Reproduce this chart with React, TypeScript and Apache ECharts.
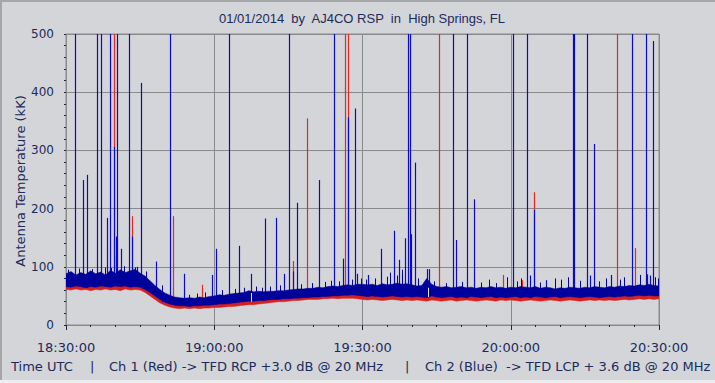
import React, { useEffect, useRef } from "react";
import * as echarts from "echarts";

// minutes after 18:30:00 UTC, one value per minute (index = minute)
const blueTop = [
  88, 92, 86, 90, 87, 93, 88, 91, 86, 94,
  89, 95, 90, 93, 96, 89, 84, 76, 68, 61,
  55, 51, 48, 47, 46, 47, 46, 48, 47, 49,
  50, 52, 51, 53, 54, 55, 56, 59, 57, 58,
  57, 58, 58, 59, 59, 60, 61, 62, 62, 63,
  63, 65, 64, 66, 67, 66, 68, 69, 68, 70,
  70, 69, 70, 68, 71, 69, 70, 72, 70, 71,
  69, 67, 68, 80, 70, 66, 65, 66, 64, 65,
  66, 64, 65, 63, 65, 64, 66, 64, 65, 63,
  65, 64, 66, 65, 64, 66, 63, 65, 64, 62,
  64, 63, 65, 64, 63, 65, 64, 66, 65, 64,
  66, 65, 67, 66, 68, 67, 69, 68, 70, 68,
  67,
];
const blueBottom = [
  66, 65, 67, 66, 64, 66, 65, 67, 66, 65,
  67, 66, 67, 65, 66, 65, 61, 56, 50, 44,
  39, 36, 34, 33, 33, 32, 33, 33, 34, 34,
  35, 36, 36, 37, 38, 39, 40, 41, 41, 42,
  42, 43, 44, 44, 45, 45, 46, 46, 47, 47,
  48, 48, 49, 49, 50, 50, 51, 51, 52, 51,
  50, 49, 50, 49, 48, 49, 50, 49, 48, 49,
  48, 49, 48, 47, 50, 48, 47, 48, 49, 47,
  48, 47, 49, 48, 47, 48, 49, 47, 48, 47,
  48, 49, 47, 48, 47, 49, 48, 47, 48, 49,
  47, 48, 49, 48, 47, 48, 49, 48, 47, 48,
  49, 48, 49, 50, 49, 50, 51, 50, 51, 50,
  50,
];
const redBottom = [
  61, 60, 62, 60, 61, 59, 61, 60, 62, 60,
  61, 59, 62, 60, 61, 60, 56, 50, 44, 38,
  34, 31, 29, 28, 29, 28, 29, 28, 29, 29,
  30, 30, 31, 32, 32, 33, 34, 35, 35, 36,
  37, 38, 39, 40, 40, 41, 42, 42, 43, 44,
  44, 44, 45, 45, 46, 45, 46, 46, 46, 45,
  44, 43, 44, 43, 42, 43, 44, 43, 42, 43,
  42, 43, 42, 41, 43, 42, 41, 42, 43, 41,
  42, 43, 42, 41, 42, 43, 42, 41, 43, 42,
  43, 42, 41, 42, 43, 42, 41, 42, 43, 42,
  41, 42, 43, 42, 41, 42, 43, 42, 43, 42,
  43, 42, 43, 44, 43, 44, 45, 44, 45, 44,
  45,
];

// impulsive spikes: time (minutes after 18:30) and peak (kK)
const blueSpikeTimes = [
  1.8, 3.5, 4.2, 6.2, 7.15, 8.36, 8.97, 9.78, 10.1, 10.4, 11.2, 12.8, 13.4, 14.3, 15.2,
  18.3, 21.1, 23.9, 29.5, 30.4, 33.0, 35.1, 37.4, 40.3, 42.4, 44.1, 45.1, 46.0, 46.7,
  51.1, 54.3, 56.1, 57.1, 58.5, 58.9, 61.2, 63.7, 66.4, 67.4, 68.7, 69.3, 69.7, 69.8,
  70.7, 73.1, 73.5, 78.4, 79.0, 81.2, 82.6, 90.5, 93.3, 93.8, 94.8, 97.1, 102.6, 102.8,
  105.5, 106.0, 106.9, 110.2, 114.6, 117.4, 117.6, 118.2, 118.8,
];
const blueSpikePeaks = [
  500, 249, 258, 500, 500, 184, 500, 306, 152, 500, 131, 500, 152, 100, 416,
  109, 500, 88, 86, 131, 500, 136, 88, 183, 184, 88, 500, 92, 210,
  249, 500, 114, 357, 372, 88, 86, 131, 162, 112, 149, 500, 500, 156,
  279, 96, 96, 500, 146, 500, 216, 500, 500, 85, 198, 77, 500, 500,
  500, 85, 311, 86, 500, 500, 87, 85, 488,
];
// small noise hairs on top of the blue band
const blueHairTimes = [
  0.5, 2.6, 5.3, 7.8, 9.2, 11.8, 13.9, 16.2, 19.5, 24.8, 26.5, 28.2,
  31.5, 34.2, 36.1, 38.5, 39.6, 41.2, 43.3, 47.5, 49.8, 52.4, 53.6, 55.2, 57.8, 59.7,
  60.8, 62.5, 64.9, 65.6, 66.9, 67.9, 71.2, 74.4, 76.9, 80.1, 84.0, 85.5, 87.1, 89.3,
  91.2, 92.0, 95.9, 98.9, 100.2, 101.6, 104.0, 107.9, 109.2, 112.1, 113.0, 116.1, 119.2, 119.7,
];
const blueHairPeaks = [
  95, 97, 96, 99, 98, 101, 99, 92, 68, 52, 54, 56,
  60, 62, 64, 66, 64, 66, 68, 70, 72, 74, 76, 75, 78, 80,
  78, 80, 83, 90, 85, 95, 80, 75, 72, 74, 73, 78, 72, 82,
  75, 80, 73, 80, 78, 82, 76, 75, 80, 78, 82, 86, 82, 80,
];
const redSpikeTimes = [9.78, 13.4, 21.7, 27.6, 46.0, 48.8, 56.5, 57.1, 68.0, 75.5, 88.4, 92.3, 94.8, 111.4, 115.2];
const redSpikePeaks = [500, 187, 187, 69, 110, 355, 500, 500, 88, 500, 86, 77, 228, 500, 132];
// brief drop-outs crossing the band
const dropoutTimes = [37.4, 73.3];
const dropoutLows = [40, 48];
const dropoutHighs = [55, 64];

const xTickLabels = ["18:30:00", "19:00:00", "19:30:00", "20:00:00", "20:30:00"];

const BG = "#d4d5d9";
const TEXT = "#1b2b5a";
const BLUE = "#00009a";
const SPIKE_BLUE = "#0a0ac4";
const RED = "#d42020";

export default function App() {
  const ref = useRef<HTMLDivElement>(null);
  useEffect(() => {
    if (!ref.current) return;
    const chart = echarts.init(ref.current, undefined, { renderer: "svg" });

    const lineSeries = (times: number[], lows: number[], peaks: number[], color: string, name: string, width = 1) => ({
      name,
      type: "custom",
      clip: true,
      encode: { x: 0, y: [1, 2] },
      data: times.map((t, i) => [t, lows[i], peaks[i]]),
      renderItem: (_p: any, api: any) => {
        const p0 = api.coord([api.value(0), api.value(1)]);
        const p1 = api.coord([api.value(0), api.value(2)]);
        const x = Math.round(p0[0]) + 0.5;
        return {
          type: "line",
          shape: { x1: x, y1: p0[1], x2: x, y2: p1[1] },
          style: { stroke: color, lineWidth: width },
        };
      },
    });

    // band polygon between low and high arrays, drawn once through the axis scales
    const bandSeries = (low: number[], high: number[], color: string, name: string) => ({
      name,
      type: "custom",
      clip: true,
      encode: { x: 0, y: [1, 2] },
      data: low.map((v, i) => [i, v, high[i]]),
      renderItem: (params: any, api: any) => {
        if (params.dataIndex !== 0) return null;
        const pts: number[][] = [];
        for (let i = 0; i < high.length; i++) pts.push(api.coord([i, high[i]]));
        for (let i = low.length - 1; i >= 0; i--) pts.push(api.coord([i, low[i]]));
        return {
          type: "polygon",
          shape: { points: pts },
          style: { fill: color, stroke: color, lineWidth: 0.5 },
        };
      },
    });

    const baseAt = (arr: number[]) => (t: number) => arr[Math.round(t)];
    const redTopHidden = blueBottom.map((v) => v + 3);

    chart.setOption({
      animation: false,
      backgroundColor: BG,
      grid: {
        left: 66, top: 34, width: 593, height: 291,
        show: true, borderColor: "#8a8a8a", borderWidth: 1, backgroundColor: "transparent",
      },
      xAxis: {
        type: "value", min: 0, max: 120, interval: 30, offset: 6,
        axisLine: { show: false },
        axisTick: { show: true, length: 5, lineStyle: { color: "#222244" } },
        minorTick: { show: true, splitNumber: 6, length: 2, lineStyle: { color: "#222244" } },
        axisLabel: {
          margin: 10, color: TEXT, fontFamily: "DejaVu Sans", fontSize: 13,
          formatter: (v: number) => xTickLabels[Math.round(v / 30)] ?? "",
        },
        splitLine: { show: true, lineStyle: { color: "#8a8a8a", width: 1 } },
      },
      yAxis: {
        type: "value", min: 0, max: 500, interval: 100, offset: 6,
        axisLine: { show: false },
        axisTick: { show: true, length: 2, lineStyle: { color: "#222244" } },
        minorTick: { show: true, splitNumber: 5, length: 2, lineStyle: { color: "#222244" } },
        axisLabel: { margin: 6, color: TEXT, fontFamily: "DejaVu Sans", fontSize: 12 },
        splitLine: { show: true, lineStyle: { color: "#8a8a8a", width: 1 } },
      },
      series: [
        bandSeries(redBottom, redTopHidden, RED, "redBand"),
        lineSeries(redSpikeTimes, redSpikeTimes.map(baseAt(redBottom)), redSpikePeaks, "#e02828", "redSpikes", 1.2),
        lineSeries(blueSpikeTimes, blueSpikeTimes.map(baseAt(blueBottom)), blueSpikePeaks, SPIKE_BLUE, "blueSpikes", 1.2),
        lineSeries(blueHairTimes, blueHairTimes.map(baseAt(blueBottom)), blueHairPeaks, BLUE, "blueHairs"),
        bandSeries(blueBottom, blueTop, BLUE, "blueBand"),
        lineSeries(dropoutTimes, dropoutLows, dropoutHighs, "#e4e4ee", "dropouts"),
      ],
      graphic: [
        { type: "rect", shape: { x: 0, y: 0, width: 715, height: 2 }, style: { fill: "#a4a6aa" }, silent: true },
        { type: "rect", shape: { x: 0, y: 0, width: 2, height: 383 }, style: { fill: "#a4a6aa" }, silent: true },
        { type: "rect", shape: { x: 0, y: 380, width: 715, height: 3 }, style: { fill: "#eceef0" }, silent: true },
        {
          type: "text", x: 362, y: 18, silent: true,
          style: {
            text: "01/01/2014  by  AJ4CO RSP  in  High Springs, FL",
            font: "13px 'Liberation Sans'", fill: TEXT,
            align: "center", verticalAlign: "middle", textAlign: "center", textVerticalAlign: "middle",
          },
        },
        {
          type: "text", x: 20, y: 181, rotation: Math.PI / 2, silent: true,
          style: {
            text: "Antenna Temperature (kK)",
            font: "13px 'DejaVu Sans'", fill: TEXT,
            align: "center", verticalAlign: "middle", textAlign: "center", textVerticalAlign: "middle",
          },
        },
        {
          type: "text", x: 11, y: 366, silent: true,
          style: { text: "Time UTC", font: "13px 'DejaVu Sans'", fill: TEXT, align: "left", verticalAlign: "middle", textAlign: "left", textVerticalAlign: "middle" },
        },
        {
          type: "text", x: 90, y: 366, silent: true,
          style: { text: "|", font: "13px 'DejaVu Sans'", fill: TEXT, align: "left", verticalAlign: "middle", textAlign: "left", textVerticalAlign: "middle" },
        },
        {
          type: "text", x: 109, y: 366, silent: true,
          style: { text: "Ch 1 (Red) -> TFD RCP +3.0 dB @ 20 MHz", font: "13px 'DejaVu Sans'", fill: TEXT, align: "left", verticalAlign: "middle", textAlign: "left", textVerticalAlign: "middle" },
        },
        {
          type: "text", x: 405, y: 366, silent: true,
          style: { text: "|", font: "13px 'DejaVu Sans'", fill: TEXT, align: "left", verticalAlign: "middle", textAlign: "left", textVerticalAlign: "middle" },
        },
        {
          type: "text", x: 425, y: 366, silent: true,
          style: { text: "Ch 2 (Blue)  -> TFD LCP + 3.6 dB @ 20 MHz", font: "13px 'DejaVu Sans'", fill: TEXT, align: "left", verticalAlign: "middle", textAlign: "left", textVerticalAlign: "middle" },
        },
      ],
    });
    return () => chart.dispose();
  }, []);
  return (
    <div
      ref={ref}
      style={{ position: "fixed", left: 0, top: 0, width: 715, height: 383 }}
    />
  );
}
